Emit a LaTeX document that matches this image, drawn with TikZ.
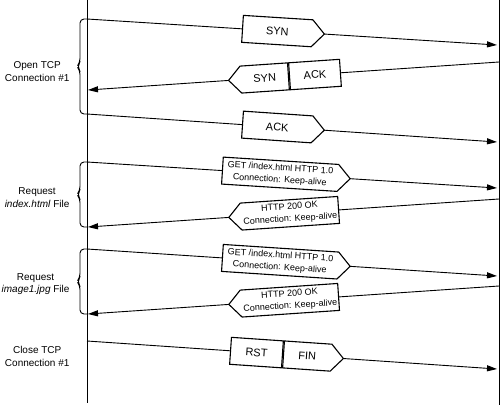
\documentclass[tikz,border=0pt]{standalone}
\usepackage{fontspec}
\setmainfont{Liberation Sans}
\usetikzlibrary{arrows.meta, shapes.symbols}

\begin{document}
\begin{tikzpicture}[
    x=1pt, y=1pt,
    font=\fontsize{10}{12.5}\selectfont,
    life/.style={line width=0.9pt},
    msg/.style={line width=0.9pt},
    tomsg/.style={msg, -{Triangle[length=10pt, width=6pt]}},
    cell/.style={draw, line width=1.1pt, fill=white, minimum height=27pt, inner sep=1pt,
                 font=\fontsize{11}{13}\selectfont},
    pkt/.style={cell, signal, signal from=nowhere, signal pointer angle=95},
    pktr/.style={pkt, signal to=east},
    pktl/.style={pkt, signal to=west},
    req/.style={align=center, font=\fontsize{9}{12}\selectfont},
    phase/.style={align=center, anchor=east},
    brc/.style={line width=0.9pt, rounded corners=4pt}
  ]
    \useasboundingbox (0,0) rectangle (500,-405);
    % client and server lines
    \coordinate (ctop) at (87,0);  \coordinate (cbot) at (87,-403);
    \coordinate (stop) at (499,0); \coordinate (sbot) at (499,-405);
    \draw[life] (ctop) -- (cbot);
    \draw[life] (stop) -- (sbot);
    % message ends
    \coordinate (l1) at (87,-19);   \coordinate (r1) at (497,-45);
    \coordinate (r2) at (499,-62);  \coordinate (l2) at (88,-90);
    \coordinate (l3) at (87,-114);  \coordinate (r3) at (497,-142);
    \coordinate (l4) at (87,-162);  \coordinate (r4) at (497,-188);
    \coordinate (r5) at (499,-199); \coordinate (l5) at (88,-227);
    \coordinate (l6) at (87,-249);  \coordinate (r6) at (497,-276);
    \coordinate (r7) at (499,-286); \coordinate (l7) at (88,-314);
    \coordinate (l8) at (87,-341);  \coordinate (r8) at (497,-369);
    % open connection
    \draw[tomsg] (l1) -- node[pktr, sloped, pos=.378, anchor=west, minimum width=82pt] (syn1) {SYN} (r1);
    \draw[tomsg] (r2) -- node[cell, sloped, pos=.511, anchor=west, minimum width=51pt] (ack2) {ACK}
                         node[pktl, sloped, pos=.511, anchor=east, minimum width=60pt] (syn2) {SYN} (l2);
    \draw[tomsg] (l3) -- node[pktr, sloped, pos=.378, anchor=west, minimum width=82pt] (ack3) {ACK} (r3);
    % first request
    \draw[tomsg] (l4) -- node[pktr, req, sloped, pos=.329, anchor=west, minimum width=128pt] (get1)
                         {GET /index.html HTTP 1.0\\Connection: Keep-alive} (r4);
    \draw[tomsg] (r5) -- node[pktl, req, sloped, pos=.389, anchor=east, minimum width=110pt] (ok1)
                         {HTTP 200 OK\\Connection: Keep-alive} (l5);
    % second request
    \draw[tomsg] (l6) -- node[pktr, req, sloped, pos=.329, anchor=west, minimum width=128pt] (get2)
                         {GET /index.html HTTP 1.0\\Connection: Keep-alive} (r6);
    \draw[tomsg] (r7) -- node[pktl, req, sloped, pos=.389, anchor=east, minimum width=110pt] (ok2)
                         {HTTP 200 OK\\Connection: Keep-alive} (l7);
    % close connection
    \draw[tomsg] (l8) -- node[cell, sloped, pos=.478, anchor=east, minimum width=52pt] (rst) {RST}
                         node[pktr, sloped, pos=.478, anchor=west, minimum width=60pt] (fin) {FIN} (r8);
    % braces
    \draw[brc] (l1) -- ++(-7,0) -- ++(0,-43.5) -- ++(-3,-4) -- ++(3,-4) |- (l3);
    \draw[brc] (l4) -- ++(-7,0) -- ++(0,-28.5) -- ++(-3,-4) -- ++(3,-4) |- (l5);
    \draw[brc] (l6) -- ++(-7,0) -- ++(0,-28.5) -- ++(-3,-4) -- ++(3,-4) |- (l7);
    % phase labels
    \node[phase] (open) at (73,-71.5) {Open TCP\\Connection \#1};
    \node[phase] (req1) at (73,-197.5) {Request\\\textit{index.html} File};
    \node[phase] (req2) at (73,-284) {Request\\\textit{image1.jpg} File};
    \node[phase] (close) at (73,-356.5) {Close TCP\\Connection \#1};
\end{tikzpicture}
\end{document}
